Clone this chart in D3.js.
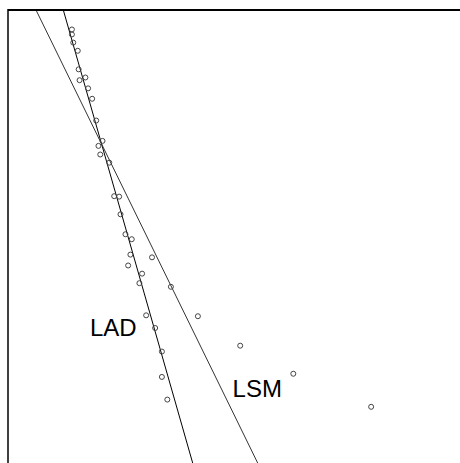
<!DOCTYPE html>
<html>
<head>
<meta charset="utf-8">
<script src="https://cdn.jsdelivr.net/npm/d3@7"></script>
<style>
  html, body { margin: 0; padding: 0; background: #fff; }
  svg { display: block; }
</style>
</head>
<body>
<svg id="chart" width="460" height="463"></svg>
<script>
// Observations (x, y)
const xValues = [14.2, 14.2, 14.5, 15.5, 15.7, 15.9, 17.2, 17.8, 18.7, 19.6,
                 21.0, 20.1, 20.5, 22.5, 23.6, 24.7, 25.0, 26.1, 27.5, 27.2,
                 32.0, 26.7, 29.8, 29.2, 36.2, 42.2, 30.7, 32.7, 34.2, 34.2,
                 35.4, 51.6, 63.4, 80.7];
const yValues = [95.7, 94.6, 92.8, 91.0, 86.9, 84.5, 85.1, 82.7, 80.4, 75.6,
                 71.1, 70.0, 68.1, 66.3, 58.9, 58.8, 54.9, 50.5, 49.4, 46.0,
                 45.4, 43.6, 41.8, 39.7, 38.9, 32.4, 32.6, 29.8, 24.6, 19.0,
                 14.0, 25.9, 19.7, 12.4];

// Fitted lines: least absolute deviation and least squares
const fitNames      = ["LAD", "LSM"];
const fitIntercepts = [142.75, 112.64];
const fitSlopes     = [-3.478, -2.030];
const fitColors     = ["#000", "#333"];

// Label anchors (data coordinates) for each fit
const labelX = [18.2, 49.9];
const labelY = [28.0, 14.6];

const svg = d3.select("#chart");
const m = { left: 8, top: 10, right: 458, bottom: 463 };

const x = d3.scaleLinear().domain([0, 100]).range([m.left, m.right]);
const y = d3.scaleLinear().domain([0, 100]).range([m.bottom, m.top]);

svg.append("defs").append("clipPath").attr("id", "plotClip")
  .append("rect")
  .attr("x", m.left).attr("y", m.top)
  .attr("width", 600).attr("height", 600);

const plot = svg.append("g").attr("clip-path", "url(#plotClip)");

// Regression lines across the x domain
const line = d3.line().x(d => x(d[0])).y(d => y(d[1]));
fitNames.forEach((name, i) => {
  const xs = [-20, 120];
  plot.append("path")
    .attr("d", line(xs.map(v => [v, fitIntercepts[i] + fitSlopes[i] * v])))
    .attr("fill", "none")
    .attr("stroke", fitColors[i])
    .attr("stroke-width", 1);
});

// Data points
plot.selectAll("circle.pt")
  .data(xValues.map((v, i) => [v, yValues[i]]))
  .join("circle")
  .attr("class", "pt")
  .attr("cx", d => x(d[0]))
  .attr("cy", d => y(d[1]))
  .attr("r", 2.5)
  .attr("fill", "none")
  .attr("stroke", "#444")
  .attr("stroke-width", 1);

// Line labels
svg.selectAll("text.lbl")
  .data(fitNames)
  .join("text")
  .attr("class", "lbl")
  .attr("x", (d, i) => x(labelX[i]))
  .attr("y", (d, i) => y(labelY[i]))
  .attr("font-family", "'Liberation Sans', Arial, sans-serif")
  .attr("font-size", 24)
  .attr("fill", "#000")
  .text(d => d);

// Frame: top and left edges of the plotting region
svg.append("line")
  .attr("x1", m.left).attr("x2", 460)
  .attr("y1", m.top).attr("y2", m.top)
  .attr("stroke", "#000").attr("stroke-width", 2);
svg.append("line")
  .attr("x1", m.left).attr("x2", m.left)
  .attr("y1", m.top - 1).attr("y2", 463)
  .attr("stroke", "#000").attr("stroke-width", 1.5);
</script>
</body>
</html>
